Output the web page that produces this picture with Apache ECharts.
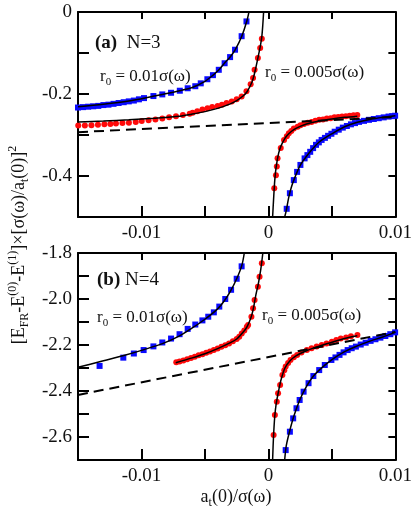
<!DOCTYPE html>
<html>
<head>
<meta charset="utf-8">
<script src="https://cdn.jsdelivr.net/npm/echarts@6/dist/echarts.min.js"></script>
<style>
html,body{margin:0;padding:0;background:#fff;}
#chart{width:415px;height:515px;}
</style>
</head>
<body>
<div id="chart"></div>
<script>
// ---------- DATA ----------
// tick labels
const xTickLabels = ['-0.01', '0', '0.01'];
const yTickLabelsA = ['0', '-0.2', '-0.4'];
const yTickLabelsB = ['-1.8', '-2.0', '-2.2', '-2.4', '-2.6'];

// Panel (a) N=3
const aDashed = [[-0.015, -0.293], [0.01, -0.256]];
const aBlueLeftPts = [[-0.0150,-0.233],[-0.0146,-0.232],[-0.0142,-0.231],[-0.0138,-0.230],[-0.0134,-0.229],[-0.0130,-0.227],[-0.0126,-0.226],[-0.0122,-0.224],[-0.0118,-0.222],[-0.0114,-0.220],[-0.0110,-0.218],[-0.0106,-0.216],[-0.0102,-0.213],[-0.0098,-0.210],[-0.00906,-0.205],[-0.00836,-0.201],[-0.00767,-0.197],[-0.00698,-0.192],[-0.00636,-0.186],[-0.00576,-0.181],[-0.00533,-0.174],[-0.00481,-0.164],[-0.00437,-0.154],[-0.00391,-0.141],[-0.00345,-0.125],[-0.00302,-0.110],[-0.00263,-0.092],[-0.00211,-0.059],[-0.00173,-0.023]];
const aBlueLeftFit = [[-0.015,-0.231],[-0.013,-0.225],[-0.011,-0.217],[-0.009,-0.205],[-0.008,-0.199],[-0.007,-0.192],[-0.006,-0.184],[-0.005,-0.169],[-0.0044,-0.155],[-0.0039,-0.141],[-0.0035,-0.126],[-0.003,-0.109],[-0.0026,-0.091],[-0.0021,-0.059],[-0.0017,-0.022],[-0.0015,0.005]];
const aRedLeftPts = [[-0.01498,-0.277],[-0.01446,-0.277],[-0.01394,-0.276],[-0.01343,-0.275],[-0.01292,-0.274],[-0.01245,-0.273],[-0.01201,-0.272],[-0.0115,-0.271],[-0.01099,-0.270],[-0.01045,-0.268],[-0.00998,-0.266],[-0.00944,-0.264],[-0.0089,-0.262],[-0.00836,-0.260],[-0.00782,-0.257],[-0.00728,-0.254],[-0.00674,-0.251],[-0.0062,-0.248],[-0.00597,-0.246],[-0.0056,-0.242],[-0.0052,-0.238],[-0.0048,-0.235],[-0.00443,-0.232],[-0.0040,-0.229],[-0.00366,-0.226],[-0.0033,-0.222],[-0.00289,-0.218],[-0.0025,-0.213],[-0.00211,-0.206],[-0.00173,-0.193],[-0.0014,-0.176],[-0.00121,-0.161],[-0.00109,-0.141],[-0.00083,-0.112],[-0.00065,-0.088],[-0.00052,-0.065]];
const aRedLeftFit = [[-0.015,-0.268],[-0.013,-0.266],[-0.011,-0.263],[-0.009,-0.259],[-0.007,-0.254],[-0.006,-0.249],[-0.005,-0.243],[-0.004,-0.235],[-0.003,-0.224],[-0.0025,-0.216],[-0.002,-0.205],[-0.0017,-0.195],[-0.0014,-0.178],[-0.0012,-0.162],[-0.001,-0.137],[-0.0008,-0.108],[-0.00065,-0.085],[-0.00052,-0.060],[-0.00044,-0.030],[-0.00038,0.0]];
const aRedRightPts = [[0.00046,-0.430],[0.00059,-0.398],[0.00066,-0.377],[0.00072,-0.357],[0.00097,-0.332],[0.00123,-0.312],[0.00145,-0.303],[0.00161,-0.296],[0.0018,-0.290],[0.0020,-0.284],[0.0023,-0.280],[0.00252,-0.276],[0.0028,-0.273],[0.0031,-0.270],[0.0034,-0.268],[0.0037,-0.265],[0.0040,-0.263],[0.0043,-0.262],[0.0046,-0.260],[0.0049,-0.259],[0.0052,-0.257],[0.0055,-0.256],[0.0058,-0.255],[0.0061,-0.254],[0.0064,-0.253],[0.0067,-0.252],[0.0070,-0.251]];
const aRedRightFit = [[0.00033,-0.5],[0.0004,-0.46],[0.0005,-0.41],[0.0006,-0.38],[0.0008,-0.345],[0.001,-0.326],[0.0013,-0.308],[0.0016,-0.297],[0.002,-0.287],[0.0025,-0.279],[0.003,-0.273],[0.004,-0.266],[0.005,-0.261],[0.006,-0.257],[0.007,-0.254]];
const aBlueRightPts = [[0.00144,-0.480],[0.00169,-0.442],[0.0020,-0.410],[0.00226,-0.390],[0.00252,-0.373],[0.00285,-0.357],[0.00307,-0.349],[0.00329,-0.341],[0.00352,-0.332],[0.00375,-0.324],[0.00397,-0.318],[0.00419,-0.312],[0.00445,-0.307],[0.0047,-0.302],[0.00496,-0.297],[0.00522,-0.292],[0.00554,-0.287],[0.00586,-0.282],[0.00618,-0.278],[0.0065,-0.274],[0.00682,-0.271],[0.00714,-0.268],[0.00753,-0.2655],[0.00792,-0.263],[0.0083,-0.261],[0.00869,-0.259],[0.00908,-0.257],[0.00946,-0.255],[0.00975,-0.254],[0.00998,-0.253]];
const aBlueRightFit = [[0.00128,-0.5],[0.0014,-0.485],[0.0016,-0.452],[0.0018,-0.428],[0.002,-0.410],[0.0025,-0.374],[0.003,-0.352],[0.0035,-0.333],[0.004,-0.317],[0.005,-0.297],[0.006,-0.280],[0.007,-0.269],[0.008,-0.262],[0.009,-0.257],[0.010,-0.253]];

// Panel (b) N=4
const bDashed = [[-0.015, -2.417], [0.01, -2.143]];
const bBlueLeftPts = [[-0.0133,-2.291],[-0.01143,-2.255],[-0.0106,-2.237],[-0.00983,-2.222],[-0.00906,-2.206],[-0.00836,-2.189],[-0.00767,-2.172],[-0.007,-2.153],[-0.00636,-2.130],[-0.00576,-2.111],[-0.0052,-2.093],[-0.00474,-2.077],[-0.0043,-2.058],[-0.00387,-2.033],[-0.0034,-2.000],[-0.00294,-1.960],[-0.0025,-1.912],[-0.00211,-1.858]];
const bBlueLeftFit = [[-0.015,-2.297],[-0.0133,-2.273],[-0.0114,-2.246],[-0.0098,-2.220],[-0.0083,-2.193],[-0.007,-2.160],[-0.006,-2.126],[-0.005,-2.088],[-0.004,-2.043],[-0.0035,-2.010],[-0.003,-1.967],[-0.0025,-1.912],[-0.0021,-1.855],[-0.0019,-1.80]];
const bRedLeftPts = [[-0.00726,-2.275],[-0.0070,-2.272],[-0.0067,-2.267],[-0.0064,-2.262],[-0.0061,-2.256],[-0.0058,-2.251],[-0.0055,-2.245],[-0.0052,-2.240],[-0.0049,-2.234],[-0.0046,-2.228],[-0.0043,-2.222],[-0.0040,-2.215],[-0.0037,-2.208],[-0.0034,-2.201],[-0.0031,-2.193],[-0.0028,-2.184],[-0.0025,-2.174],[-0.0023,-2.164],[-0.0021,-2.150],[-0.0019,-2.137],[-0.0017,-2.121],[-0.0016,-2.113],[-0.00134,-2.077],[-0.00121,-2.040],[-0.00109,-2.004],[-0.00083,-1.947],[-0.0007,-1.903],[-0.00052,-1.845]];
const bRedLeftFit = [[-0.0073,-2.277],[-0.006,-2.256],[-0.005,-2.238],[-0.004,-2.216],[-0.003,-2.190],[-0.0025,-2.174],[-0.002,-2.145],[-0.0017,-2.122],[-0.0014,-2.085],[-0.0012,-2.045],[-0.001,-1.985],[-0.0008,-1.935],[-0.0006,-1.87],[-0.00044,-1.80]];
const bRedRightPts = [[0.00041,-2.591],[0.00051,-2.504],[0.00066,-2.447],[0.00076,-2.410],[0.00092,-2.374],[0.0011,-2.330],[0.00125,-2.310],[0.00136,-2.294],[0.00155,-2.278],[0.00174,-2.265],[0.002,-2.253],[0.00226,-2.243],[0.0026,-2.233],[0.00303,-2.222],[0.0034,-2.214],[0.0038,-2.207],[0.0042,-2.200],[0.00458,-2.193],[0.005,-2.186],[0.00535,-2.178],[0.0057,-2.172],[0.00612,-2.167],[0.0065,-2.162],[0.00701,-2.157]];
const bRedRightFit = [[0.00033,-2.7],[0.0004,-2.6],[0.0005,-2.51],[0.0006,-2.46],[0.0008,-2.40],[0.001,-2.35],[0.0013,-2.30],[0.0017,-2.268],[0.0022,-2.246],[0.003,-2.225],[0.004,-2.205],[0.005,-2.188],[0.006,-2.172],[0.007,-2.160]];
const bBlueRightPts = [[0.00136,-2.657],[0.00169,-2.577],[0.00195,-2.519],[0.00221,-2.475],[0.00246,-2.439],[0.00277,-2.403],[0.00316,-2.366],[0.00354,-2.335],[0.004,-2.309],[0.00444,-2.287],[0.00496,-2.265],[0.00528,-2.254],[0.0056,-2.243],[0.00592,-2.232],[0.00624,-2.222],[0.00656,-2.214],[0.00689,-2.207],[0.00727,-2.198],[0.00766,-2.190],[0.00805,-2.182],[0.00843,-2.175],[0.00882,-2.168],[0.00921,-2.161],[0.0096,-2.153],[0.00998,-2.145]];
const bBlueRightFit = [[0.00128,-2.7],[0.0014,-2.64],[0.0016,-2.59],[0.002,-2.51],[0.0025,-2.435],[0.003,-2.38],[0.0035,-2.338],[0.004,-2.309],[0.005,-2.264],[0.006,-2.229],[0.007,-2.204],[0.008,-2.183],[0.009,-2.165],[0.010,-2.145]];

// ---------- CHART ----------
const FONT = 'Liberation Serif';
const BLUE = '#0a0aff';
const RED = '#ff0a0a';

function labelFmt(list) {
  return function (v) {
    const s = list.find(t => Math.abs(parseFloat(t) - v) < 1e-9);
    return s === undefined ? '' : s;
  };
}

function xAxisCfg(gridIndex, position, labels) {
  return {
    type: 'value', gridIndex, position, min: -0.015, max: 0.01, interval: 0.005,
    axisLine: { show: true, onZero: false, lineStyle: { color: '#000', width: 2 } },
    axisTick: { show: true, inside: true, length: labels ? 11 : 7, lineStyle: { color: '#000', width: 2 } },
    axisLabel: labels ? { show: true, margin: 7, fontFamily: FONT, fontSize: 19, color: '#111', formatter: labelFmt(labels) } : { show: false },
    splitLine: { show: false }
  };
}
function yAxisCfg(gridIndex, position, min, max, labels) {
  return {
    type: 'value', gridIndex, position, min, max, interval: 0.1,
    axisLine: { show: true, onZero: false, lineStyle: { color: '#000', width: 2 } },
    axisTick: { show: true, inside: true, length: labels ? 11 : 7, lineStyle: { color: '#000', width: 2 } },
    axisLabel: labels ? { show: true, margin: 6, fontFamily: FONT, fontSize: 19, color: '#111', formatter: labelFmt(labels) } : { show: false },
    splitLine: { show: false }
  };
}

function panelSeries(xi, yi, dashed, bl, blFit, rl, rlFit, rr, rrFit, br, brFit) {
  const sc = (data, sym, color) => ({ type: 'scatter', xAxisIndex: xi, yAxisIndex: yi, data, symbol: sym, symbolSize: 6, itemStyle: { color, opacity: 1 }, z: 2, silent: true });
  const ln = (data) => ({ type: 'line', xAxisIndex: xi, yAxisIndex: yi, data, showSymbol: false, symbol: 'none', smooth: 0.3, lineStyle: { color: '#000', width: 1.5 }, z: 3, silent: true });
  return [
    sc(bl, 'rect', BLUE), sc(br, 'rect', BLUE), sc(rl, 'circle', RED), sc(rr, 'circle', RED),
    ln(blFit), ln(brFit), ln(rlFit), ln(rrFit),
    { type: 'line', xAxisIndex: xi, yAxisIndex: yi, data: dashed, showSymbol: false, symbol: 'none', lineStyle: { color: '#000', width: 2, type: [10, 6] }, z: 4, silent: true }
  ];
}

const RICH = {
  m: { fontFamily: FONT, fontSize: 18, lineHeight: 24, fill: '#111' },
  ms: { fontFamily: FONT, fontSize: 12, lineHeight: 12, verticalAlign: 'bottom', fill: '#111' },
  mp: { fontFamily: FONT, fontSize: 12, lineHeight: 12, verticalAlign: 'top', fill: '#111' },
  b: { fontFamily: FONT, fontSize: 19, fontWeight: 'bold', lineHeight: 24, fill: '#111' },
  n: { fontFamily: FONT, fontSize: 19, lineHeight: 24, fill: '#111' },
  r: { fontFamily: FONT, fontSize: 17, lineHeight: 22, fill: '#111' },
  rs: { fontFamily: FONT, fontSize: 11, lineHeight: 11, verticalAlign: 'bottom', fill: '#111' }
};
function txt(x, y, text, rot, align) {
  return { type: 'text', x, y, rotation: rot || 0, silent: true, z: 10,
    style: { text, rich: RICH, align: align || 'left', verticalAlign: 'middle', fill: '#111' } };
}

const option = {
  animation: false,
  backgroundColor: '#fff',
  grid: [
    { left: 78, top: 12, width: 324, height: 205 },
    { left: 78, top: 253, width: 324, height: 207 }
  ],
  xAxis: [
    xAxisCfg(0, 'bottom', xTickLabels), xAxisCfg(0, 'top', null),
    xAxisCfg(1, 'bottom', xTickLabels), xAxisCfg(1, 'top', null)
  ],
  yAxis: [
    yAxisCfg(0, 'left', -0.5, 0, yTickLabelsA), yAxisCfg(0, 'right', -0.5, 0, null),
    yAxisCfg(1, 'left', -2.7, -1.8, yTickLabelsB), yAxisCfg(1, 'right', -2.7, -1.8, null)
  ],
  series: [].concat(
    panelSeries(0, 0, aDashed, aBlueLeftPts, aBlueLeftFit, aRedLeftPts, aRedLeftFit, aRedRightPts, aRedRightFit, aBlueRightPts, aBlueRightFit),
    panelSeries(2, 2, bDashed, bBlueLeftPts, bBlueLeftFit, bRedLeftPts, bRedLeftFit, bRedRightPts, bRedRightFit, bBlueRightPts, bBlueRightFit)
  ),
  graphic: [
    txt(95, 43, '{b|(a)}{n|  N=3}'),
    txt(100, 77, '{r|r}{rs|0}{r| = 0.01σ(ω)}'),
    txt(265, 73, '{r|r}{rs|0}{r| = 0.005σ(ω)}'),
    txt(97, 280, '{b|(b)}{n| N=4}'),
    txt(97, 318, '{r|r}{rs|0}{r| = 0.01σ(ω)}'),
    txt(262, 316, '{r|r}{rs|0}{r| = 0.005σ(ω)}'),
    txt(236, 497, '{m|a}{ms|t}{m|(0)/σ(ω)}', 0, 'center'),
    txt(19, 245, '{m|[E}{ms|FR}{m|-E}{mp|(0)}{m|-E}{mp|(1)}{m|]×[σ(ω)/a}{ms|t}{m|(0)]}{mp|2}', Math.PI / 2, 'center')
  ]
};

const chart = echarts.init(document.getElementById('chart'), null, { renderer: 'canvas' });
chart.setOption(option);
</script>
</body>
</html>
